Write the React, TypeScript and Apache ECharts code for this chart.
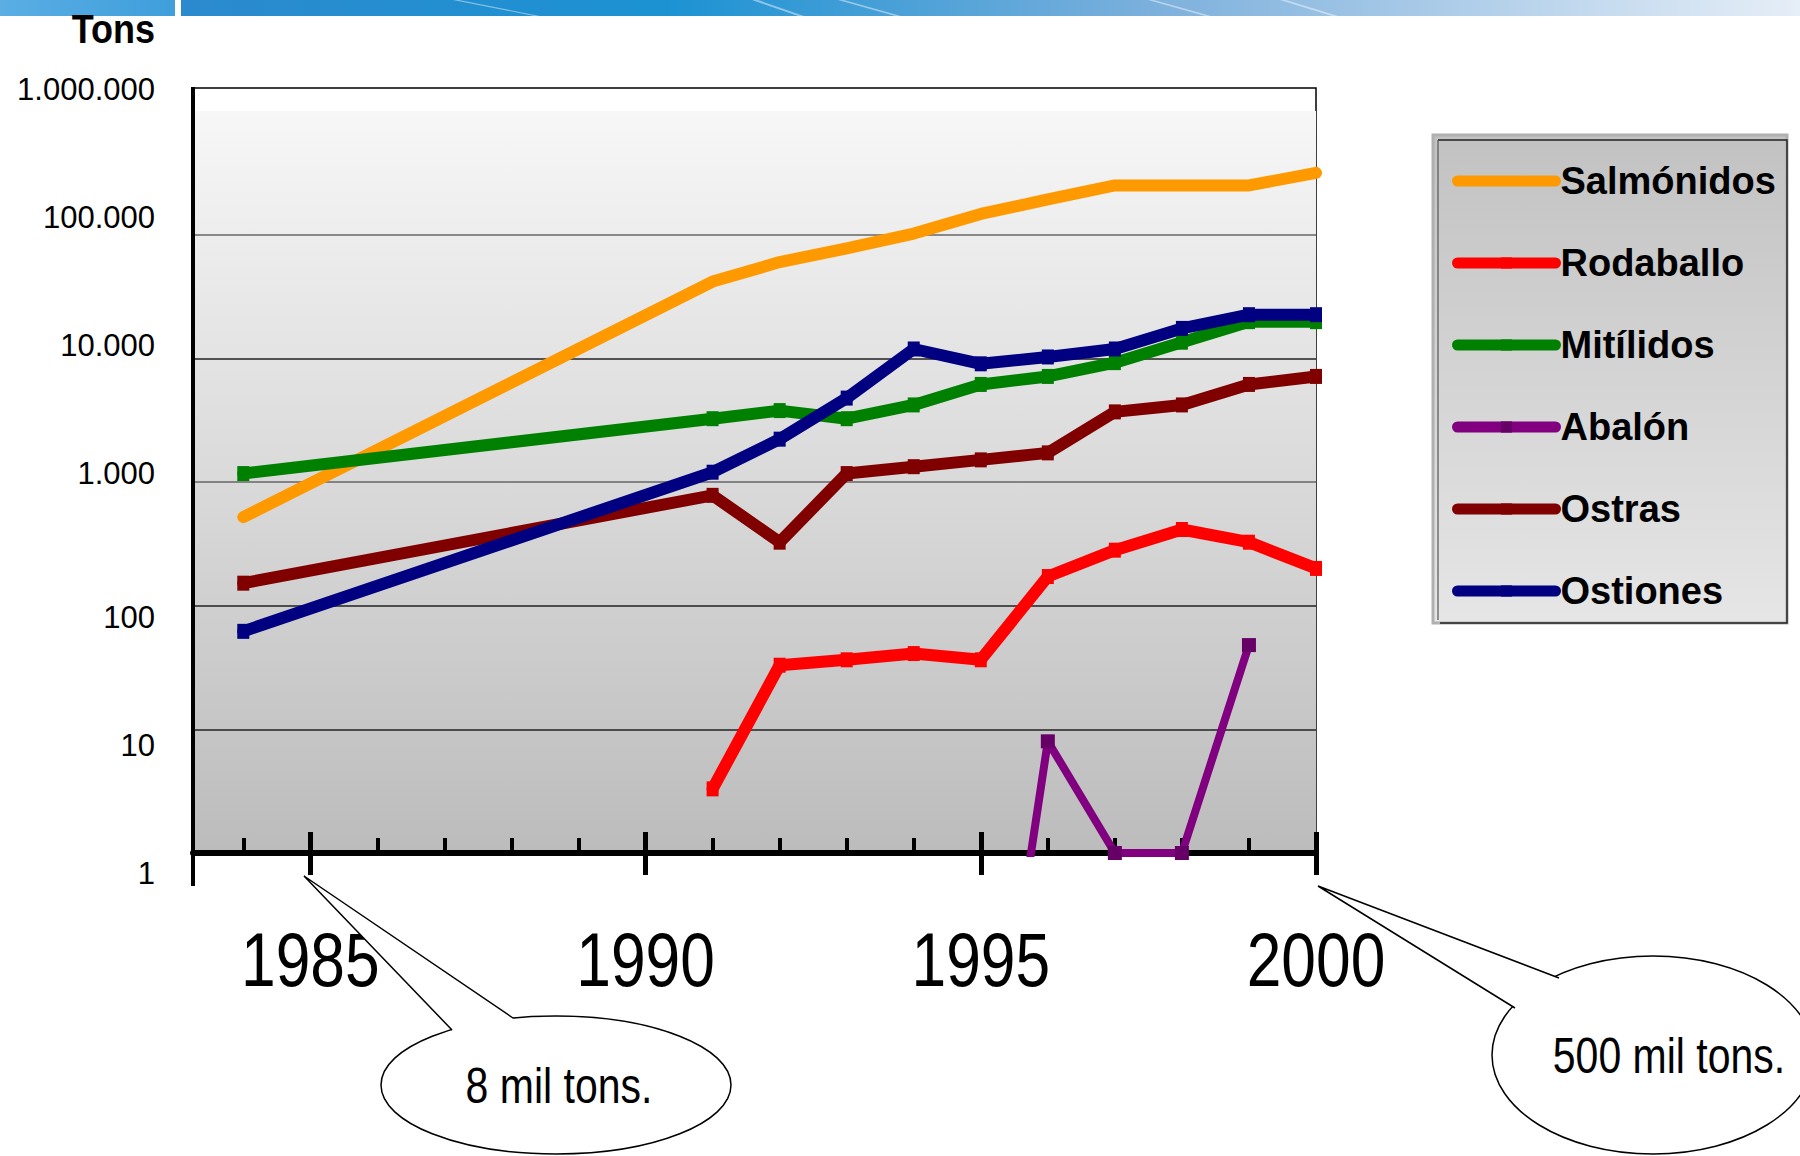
import React, { useEffect, useRef } from "react";
import * as echarts from "echarts";

// ---------- data ----------
const years = [1984, 1991, 1992, 1993, 1994, 1995, 1996, 1997, 1998, 1999, 2000];
const seriesNames = ["Salmónidos", "Rodaballo", "Mitílidos", "Abalón", "Ostras", "Ostiones"];
const salmonidos = [520, 41800, 60000, 77500, 102000, 147000, 193000, 250000, 250000, 250000, 316000];
const rodaballo = [null, 3.3, 33, 36.5, 41, 36.5, 172, 281, 413, 326, 200];
const mitilidos = [1170, 3250, 3780, 3250, 4200, 6150, 7140, 9230, 13500, 19800, 19800];
const abalon = [null, null, null, null, null, 0.002, 8, 1, 1, 48, null];
const ostras = [152, 780, 326, 1170, 1330, 1510, 1720, 3690, 4200, 6150, 7140];
const ostiones = [62, 1200, 2220, 4770, 11900, 9030, 10260, 11900, 17460, 22540, 22540];
const yTickLabels = ["1.000.000", "100.000", "10.000", "1.000", "100", "10", "1"];
const majorYears = [1985, 1990, 1995, 2000];
const allYears = [1984, 1985, 1986, 1987, 1988, 1989, 1990, 1991, 1992, 1993, 1994, 1995, 1996, 1997, 1998, 1999, 2000];
const unitLabel = "Tons";
const calloutTexts = ["8 mil tons.", "500 mil tons."];

// ---------- layout / style ----------
const W = 1800;
const H = 1156;
const X_MIN = 1983.25;
const X_MAX = 2000;
const GRID = { left: 193, top: 111, right: W - 1316, bottom: H - 853 };
const FRAME = { x: 193, y: 88, w: 1123, h: 765 };
const yLabelY = [89.5, 217, 345.5, 473, 617.5, 745, 873.6];
const yLabelRight = 155;
const YEAR_LABEL_Y = 960;
const SANS = "'Liberation Sans', Arial, sans-serif";
const NARROW_SCALE = 0.82;
const colors = ["#FF9900", "#FF0000", "#008000", "#800080", "#800000", "#000080"];
const markerColors = ["#FF9900", "#FF0000", "#008000", "#660066", "#800000", "#000080"];
const callouts = [
  { cx: 556, cy: 1085, rx: 175, ry: 69, p1: [452, 1030], tip: [304, 876], p2: [513, 1018], inner: [490, 1060], tx: 559, ty: 1086 },
  { cx: 1653, cy: 1055, rx: 161, ry: 99, p1: [1559, 978], tip: [1318, 886], p2: [1515, 1008], inner: [1560, 1020], tx: 1669, ty: 1056 },
];
const streaks = [
  [453, 534],
  [752, 798],
  [838, 895],
  [1148, 1205],
  [1280, 1332],
];

function pairs(vals: (number | null)[]) {
  const out: [number, number][] = [];
  vals.forEach((v, i) => {
    if (v !== null) out.push([years[i], v]);
  });
  return out;
}

function narrowText(text: string, x: number, y: number, fontSize: number, opts: any = {}) {
  return {
    type: "text",
    x,
    y,
    scaleX: opts.scaleX ?? NARROW_SCALE,
    z: opts.z ?? 1,
    style: {
      text,
      fontFamily: SANS,
      fontWeight: opts.bold ? "bold" : "normal",
      fontSize,
      fill: "#000",
      align: opts.align ?? "center",
      verticalAlign: "middle",
    },
  };
}

export default function App() {
  const ref = useRef<HTMLDivElement>(null);
  useEffect(() => {
    if (!ref.current) return;
    const chart = echarts.init(ref.current, null, { renderer: "svg" });
    const dataSets = [salmonidos, rodaballo, mitilidos, abalon, ostras, ostiones];

    const series = dataSets.map((d, i) => ({
      name: seriesNames[i],
      type: "line",
      xAxisIndex: 0,
      yAxisIndex: 0,
      data: pairs(d),
      symbol: i === 0 ? "none" : "rect",
      symbolSize: i === 3 ? [14, 14] : [12, 15],
      showSymbol: i !== 0,
      lineStyle: { color: colors[i], width: i === 3 ? 8 : 12, cap: "round", join: "round" },
      itemStyle: { color: markerColors[i] },
      z: 3,
    }));

    const graphics: any[] = [];
    // top banner
    graphics.push({
      type: "rect",
      shape: { x: 0, y: 0, width: 175, height: 16 },
      style: {
        fill: new echarts.graphic.LinearGradient(0, 0, 1, 0, [
          { offset: 0, color: "#5aaee4" },
          { offset: 1, color: "#3f9edb" },
        ]),
      },
      z: 0,
    });
    graphics.push({
      type: "rect",
      shape: { x: 181, y: 0, width: W - 181, height: 16 },
      style: {
        fill: new echarts.graphic.LinearGradient(0, 0, 1, 0, [
          { offset: 0, color: "#2b8acd" },
          { offset: 0.3, color: "#1c92d3" },
          { offset: 0.6, color: "#7cb0dc" },
          { offset: 1, color: "#e6eef7" },
        ]),
      },
      z: 0,
    });
    streaks.forEach(([a, b]) => {
      graphics.push({
        type: "polygon",
        shape: { points: [[a, 0], [a + 6, 0], [b + 6, 16], [b, 16]] },
        style: { fill: "rgba(255,255,255,0.45)" },
        z: 0,
      });
    });
    // unit label
    graphics.push(narrowText(unitLabel, 155, 29, 40, { bold: true, align: "right", scaleX: 0.9 }));
    // plot frame (top band white + thin border)
    graphics.push({
      type: "rect",
      shape: { x: FRAME.x, y: FRAME.y, width: FRAME.w, height: FRAME.h },
      style: { fill: "#ffffff", stroke: "#000", lineWidth: 1.5 },
      z: -1,
      silent: true,
    });
    // y-axis line continuation above the grid and below the x axis
    graphics.push({
      type: "line",
      shape: { x1: 193, y1: 87, x2: 193, y2: 112 },
      style: { stroke: "#000", lineWidth: 4 },
      z: 1,
    });
    graphics.push({
      type: "line",
      shape: { x1: 193, y1: 853, x2: 193, y2: 886 },
      style: { stroke: "#000", lineWidth: 4 },
      z: 1,
    });
    // y tick labels
    yTickLabels.forEach((t, i) => {
      graphics.push({
        type: "text",
        x: yLabelRight,
        y: yLabelY[i],
        style: { text: t, fontFamily: SANS, fontSize: 31, fill: "#000", align: "right", verticalAlign: "middle" },
        z: 1,
      });
    });
    // legend box
    graphics.push({
      type: "rect",
      shape: { x: 1433, y: 135, width: 354, height: 488 },
      style: {
        fill: new echarts.graphic.LinearGradient(0, 0, 0, 1, [
          { offset: 0, color: "#c2c2c2" },
          { offset: 1, color: "#e6e6e6" },
        ]),
        stroke: "#b0b0b0",
        lineWidth: 3,
      },
      z: 1,
    });
    graphics.push({
      type: "polyline",
      shape: { points: [[1438, 140], [1787, 140], [1787, 623], [1440, 623]] },
      style: { stroke: "#222", lineWidth: 1.5, fill: null },
      z: 1,
    });
    graphics.push({
      type: "line",
      shape: { x1: 1438, y1: 140, x2: 1438, y2: 620 },
      style: { stroke: "#555", lineWidth: 1.2 },
      z: 1,
    });
    // callouts
    callouts.forEach((c, i) => {
      graphics.push({
        type: "ellipse",
        shape: { cx: c.cx, cy: c.cy, rx: c.rx, ry: c.ry },
        style: { fill: "#fff", stroke: "#000", lineWidth: 1.5 },
        z: 20,
      });
      graphics.push({
        type: "polygon",
        shape: { points: [c.p1, c.tip, c.p2, c.inner] },
        style: { fill: "#fff" },
        z: 21,
      });
      graphics.push({
        type: "polyline",
        shape: { points: [c.p1, c.tip, c.p2] },
        style: { stroke: "#000", lineWidth: 1.5, fill: null },
        z: 22,
      });
      graphics.push(narrowText(calloutTexts[i], c.tx, c.ty, 50, { z: 23 }));
    });

    const baseX = { type: "value", min: X_MIN, max: X_MAX, gridIndex: 0, position: "bottom", splitLine: { show: false } };

    const option: any = {
      animation: false,
      backgroundColor: "#ffffff",
      grid: {
        ...GRID,
        show: true,
        borderWidth: 0,
        backgroundColor: new echarts.graphic.LinearGradient(0, 0, 0, 1, [
          { offset: 0, color: "#f7f7f7" },
          { offset: 1, color: "#bcbcbc" },
        ]),
        containLabel: false,
      },
      xAxis: [
        {
          ...baseX,
          axisLine: { show: true, lineStyle: { color: "#000", width: 6 } },
          axisTick: { show: true, inside: true, length: 15, lineStyle: { color: "#000", width: 4 }, customValues: allYears },
          axisLabel: { show: false },
        },
        {
          ...baseX,
          axisLine: { show: false },
          axisTick: { show: true, inside: true, length: 21, lineStyle: { color: "#000", width: 5 }, customValues: majorYears },
          axisLabel: { show: false },
        },
        {
          ...baseX,
          axisLine: { show: false },
          axisTick: { show: true, inside: false, length: 22, lineStyle: { color: "#000", width: 5 }, customValues: majorYears },
          axisLabel: { show: false },
        },
      ],
      yAxis: [
        {
          type: "log",
          logBase: 10,
          min: 1,
          max: 1000000,
          gridIndex: 0,
          axisLine: { show: true, lineStyle: { color: "#000", width: 4 } },
          axisTick: { show: false },
          axisLabel: { show: false },
          splitLine: {
            show: true,
            showMinLine: false,
            showMaxLine: false,
            lineStyle: { color: ["#222", "#222", "#666", "#222", "#666"], width: 1.5 },
          },
        },
      ],
      legend: {
        show: true,
        data: seriesNames.map((n, i) => (i === 0 ? { name: n, itemStyle: { opacity: 0 } } : { name: n })),
        orient: "vertical",
        left: 1452,
        top: 162,
        padding: 0,
        itemWidth: 98,
        itemHeight: 14,
        itemGap: 44,
        selectedMode: false,
        lineStyle: { width: 11, cap: "round" },
        textStyle: { fontFamily: SANS, fontWeight: "bold", fontSize: 38, color: "#000" },
        z: 10,
      },
      graphic: graphics,
      series,
    };
    chart.setOption(option);

    // year labels placed through the x axis scale
    const yearLabels = majorYears.map((yr) => {
      const px = chart.convertToPixel({ xAxisIndex: 0 }, yr) as number;
      return narrowText(String(yr), px, YEAR_LABEL_Y, 76, { z: 5 });
    });
    chart.setOption({ graphic: [...graphics, ...yearLabels] });

    return () => {
      chart.dispose();
    };
  }, []);

  return (
    <div
      ref={ref}
      style={{ position: "absolute", left: 0, top: 0, width: W, height: H, background: "#fff" }}
    />
  );
}
